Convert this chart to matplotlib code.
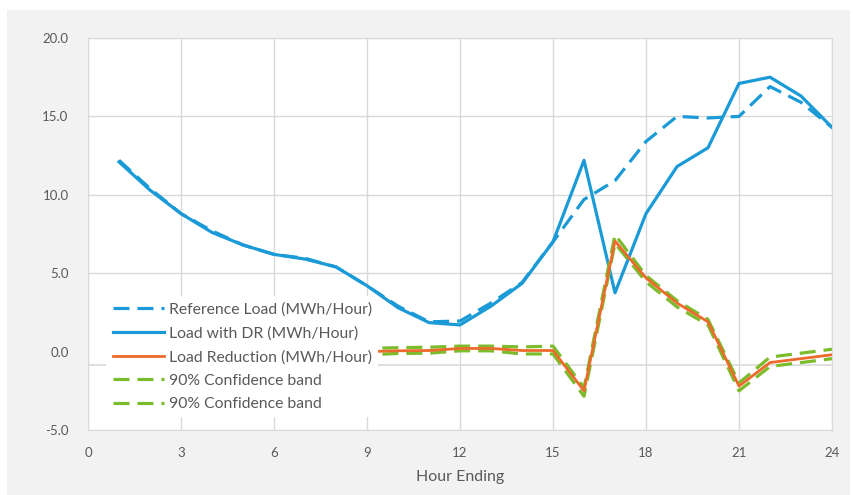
import matplotlib
matplotlib.use("Agg")
import matplotlib.pyplot as plt
from matplotlib.patches import Rectangle

hours = list(range(1, 25))
reference_load = [12.2, 10.4, 8.8, 7.7, 6.8, 6.2, 5.95, 5.4, 4.2, 2.9, 1.9, 1.95,
                  3.1, 4.4, 7.0, 9.7, 10.9, 13.4, 15.0, 14.9, 15.0, 16.9, 15.9, 14.3]
load_with_dr = [12.1, 10.3, 8.8, 7.6, 6.8, 6.2, 5.9, 5.4, 4.2, 2.8, 1.85, 1.7,
                2.9, 4.35, 7.0, 12.2, 3.75, 8.8, 11.8, 13.0, 17.1, 17.5, 16.3, 14.3]
load_reduction = [0.1, 0.1, 0.0, 0.1, 0.0, 0.0, 0.05, 0.0, 0.0, 0.05, 0.07, 0.2,
                  0.2, 0.07, 0.07, -2.5, 7.05, 4.7, 3.1, 1.9, -2.2, -0.7, -0.45, -0.2]
band_upper = [0.3, 0.3, 0.2, 0.3, 0.2, 0.2, 0.25, 0.2, 0.2, 0.25, 0.28, 0.35,
              0.35, 0.3, 0.35, -2.3, 7.45, 4.85, 3.25, 2.05, -2.0, -0.35, -0.1, 0.15]
band_lower = [-0.1, -0.1, -0.2, -0.1, -0.2, -0.2, -0.15, -0.2, -0.2, -0.12, -0.1, 0.05,
              0.05, -0.15, -0.15, -2.85, 6.9, 4.45, 2.85, 1.7, -2.5, -0.95, -0.7, -0.45]
x_ticks = [0, 3, 6, 9, 12, 15, 18, 21, 24]
y_ticks = [-5, 0, 5, 10, 15, 20]

blue = "#1a9ad6"
orange = "#ec6a2c"
green = "#7cbc2c"
text_grey = "#595959"
grid_grey = "#d9d9d9"

plt.rcParams["font.family"] = ["Lato", "DejaVu Sans"]

fig = plt.figure(figsize=(8.54, 4.95), dpi=100)
fig.patch.set_facecolor("white")
fig.patches.append(Rectangle((7 / 854, 0), 843 / 854, 485 / 495, transform=fig.transFigure,
                             facecolor="#f2f2f2", edgecolor="none", zorder=-10))

ax = fig.add_axes([88 / 854, 1 - 430 / 495, 744 / 854, 392 / 495])
ax.set_facecolor("white")

ax.plot(hours, reference_load, color=blue, lw=2.3, dashes=(5, 2.5), label="Reference Load (MWh/Hour)", zorder=3)
ax.plot(hours, load_with_dr, color=blue, lw=2.3, label="Load with DR (MWh/Hour)", zorder=3)
ax.plot(hours, load_reduction, color=orange, lw=2.0, label="Load Reduction (MWh/Hour)", zorder=4)
ax.plot(hours, band_upper, color=green, lw=2.3, dashes=(5, 2.5), label="90% Confidence band", zorder=3)
ax.plot(hours, band_lower, color=green, lw=2.3, dashes=(5, 2.5), label="90% Confidence band", zorder=3)

ax.set_xlim(0, 24)
ax.set_ylim(-5, 20)
ax.set_xticks(x_ticks)
ax.set_yticks(y_ticks)
ax.set_yticklabels([f"{v:.1f}" for v in y_ticks])
ax.grid(True, color=grid_grey, lw=1)
ax.yaxis.get_gridlines()[1].set_visible(False)
ax.axhline(-0.83, color=grid_grey, lw=1.2, zorder=1)
ax.set_axisbelow(True)
for spine in ax.spines.values():
    spine.set_color(grid_grey)
ax.tick_params(length=0, colors=text_grey, labelsize=9.5)
ax.tick_params(axis="x", pad=12)
ax.tick_params(axis="y", pad=14)
ax.set_xlabel("Hour Ending", color=text_grey, fontsize=11.5, labelpad=8)

leg = ax.legend(loc="lower left", bbox_to_anchor=(0.014, 0.012), frameon=True, fontsize=11.3,
                handlelength=3.3, handletextpad=0.3, labelspacing=0.6, borderpad=0.4)
leg.get_frame().set_facecolor("white")
leg.get_frame().set_edgecolor("none")
leg.get_frame().set_alpha(1)
leg.set_zorder(10)
for text in leg.get_texts():
    text.set_color(text_grey)

fig.savefig("out.png", dpi=100)
